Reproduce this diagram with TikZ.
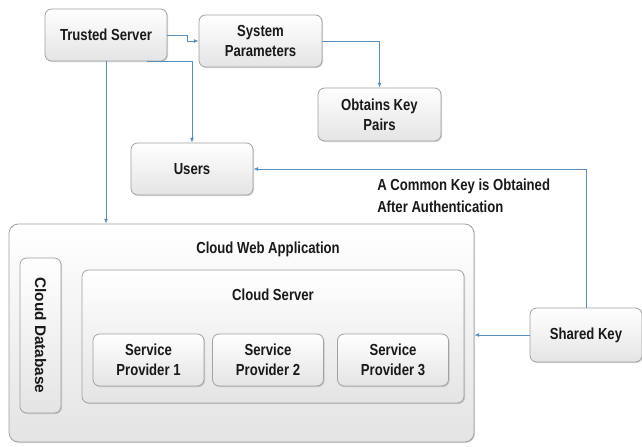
\documentclass[tikz,border=0pt]{standalone}
\usepackage{fontspec}
\setmainfont{Liberation Sans}[FakeStretch=0.82]
\newfontfamily\widesans{Liberation Sans}
\usetikzlibrary{arrows.meta,shadows,calc}
\definecolor{linkblue}{RGB}{88,142,190}
\definecolor{boxedge}{RGB}{160,160,160}
\definecolor{boxlow}{RGB}{228,228,228}
\tikzset{
  panel/.style={draw=boxedge, line width=0.6pt, rounded corners=5pt,
    top color=white, bottom color=boxlow, align=center,
    font=\bfseries\fontsize{12}{15}\selectfont, text=black!90,
    drop shadow={shadow xshift=0.8pt, shadow yshift=-0.8pt, opacity=0.25, fill=black!60},
    inner sep=0pt},
  caption/.style={font=\bfseries\fontsize{12}{16.5}\selectfont, text=black!90, inner sep=0pt},
  link/.style={draw=linkblue, line width=0.6pt},
  arr/.style={link, -{Latex[length=3.6pt,width=3pt]}}
}
\begin{document}
\begin{tikzpicture}[x=0.75pt,y=-0.75pt]
\useasboundingbox (0,0) rectangle (642,446);
\fill[white] (0,0) rectangle (642,446);

% top row
\node[panel, minimum width=91.5pt, minimum height=39pt] (ts) at (106,35) {Trusted Server};
\node[panel, minimum width=92.25pt, minimum height=39pt] (sp) at (260.5,41) {System\\Parameters};
\node[panel, minimum width=92.25pt, minimum height=39.75pt] (okp) at (379.5,114.5) {Obtains Key\\Pairs};
\node[panel, minimum width=91.5pt, minimum height=39pt] (users) at (192,169) {Users};

% cloud application container
\node[panel, rounded corners=7pt, minimum width=348.75pt, minimum height=163.5pt] (cwa) at (241.5,333) {};
\node[caption] (cwalabel) at (268,249) {Cloud Web Application};
\node[panel, minimum width=30.75pt, minimum height=116.25pt] (cdb) at (40.5,335.5) {};
\node[caption, font=\widesans\bfseries\fontsize{11.5}{14}\selectfont, rotate=-90] (cdblabel) at (cdb.center) {Cloud Database};
\node[panel, minimum width=286.5pt, minimum height=99.75pt] (cs) at (273,336.5) {};
\node[caption] (cslabel) at (273,295) {Cloud Server};
\node[panel, minimum width=83.25pt, minimum height=39pt] (sp1) at (148.5,360) {Service\\Provider 1};
\node[panel, minimum width=83.25pt, minimum height=39pt] (sp2) at (268,360) {Service\\Provider 2};
\node[panel, minimum width=83.25pt, minimum height=39pt] (sp3) at (393,360) {Service\\Provider 3};

% shared key
\node[panel, minimum width=84pt, minimum height=40.5pt] (shk) at (586,335) {Shared Key};
\node[caption, anchor=west, align=left] (auth) at (377,196) {A Common Key is Obtained\\After Authentication};

% connectors
\draw[arr] (ts.east) -- ++(20,0) |- (sp.west);
\draw[arr] (sp.east) -| (okp.north);
\draw[arr] ($(ts.south)+(41,0)$) -| (users.north);
\draw[arr] (ts.south) -- (ts.south |- cwa.north);
\draw[arr] (shk.north) |- (users.east);
\draw[arr] (shk.west) -- (shk.west -| cwa.east);
\end{tikzpicture}
\end{document}
